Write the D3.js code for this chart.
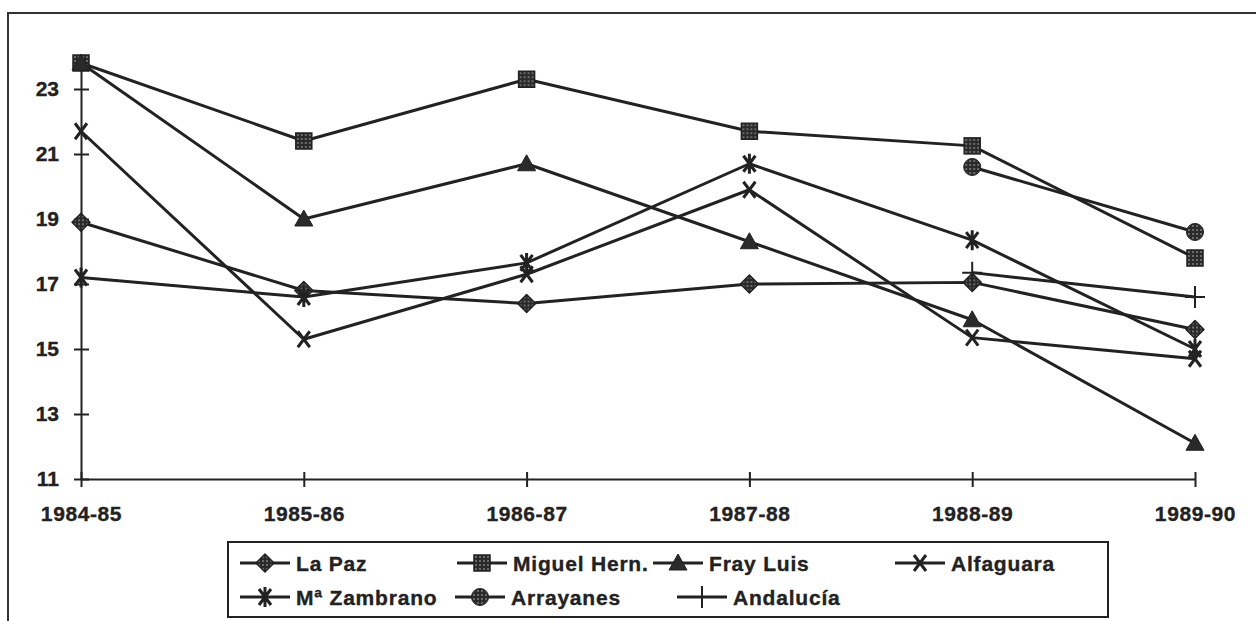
<!DOCTYPE html>
<html>
<head>
<meta charset="utf-8">
<script src="https://cdn.jsdelivr.net/npm/d3@7"></script>
<style>
  body { margin: 0; background: #fff; }
  text { font-family: "Liberation Sans", Arial, sans-serif; font-weight: bold; fill: #222; stroke: #222; stroke-width: 0.35px; }
</style>
</head>
<body>
<svg id="chart" width="1256" height="621"></svg>
<script>
// data
var years = ["1984-85", "1985-86", "1986-87", "1987-88", "1988-89", "1989-90"];
var laPaz      = [18.9, 16.8, 16.4, 17.0, 17.05, 15.6];
var miguelHern = [23.8, 21.4, 23.3, 21.7, 21.25, 17.8];
var frayLuis   = [23.8, 19.0, 20.7, 18.3, 15.9, 12.1];
var alfaguara  = [21.7, 15.3, 17.3, 19.9, 15.35, 14.7];
var zambrano   = [17.2, 16.6, 17.65, 20.7, 18.35, 15.0];
var arrayanes  = [null, null, null, null, 20.6, 18.6];
var andalucia  = [null, null, null, null, 17.35, 16.6];
var yTicks = [11, 13, 15, 17, 19, 21, 23];

var series = [
  {name: "La Paz", values: laPaz, marker: "diamond"},
  {name: "Miguel Hern.", values: miguelHern, marker: "square"},
  {name: "Fray Luis", values: frayLuis, marker: "triangle"},
  {name: "Alfaguara", values: alfaguara, marker: "x"},
  {name: "Mª Zambrano", values: zambrano, marker: "asterisk"},
  {name: "Arrayanes", values: arrayanes, marker: "circle"},
  {name: "Andalucía", values: andalucia, marker: "plus"}
];

// legend slots (line start x, row)
var legendSlots = [[240, 0], [457, 0], [653, 0], [895, 0], [240, 1], [455, 1], [677, 1]];

var ink = "#222";
var svg = d3.select("#chart");

// dotted fill pattern for markers
var defs = svg.append("defs");
var pat = defs.append("pattern").attr("id", "dots")
  .attr("patternUnits", "userSpaceOnUse").attr("width", 4).attr("height", 4);
pat.append("rect").attr("width", 4).attr("height", 4).attr("fill", "#2a2a2a");
pat.append("circle").attr("cx", 2).attr("cy", 2).attr("r", 0.8).attr("fill", "#bbb");

// outer frame (right/bottom run off the page)
svg.append("rect").attr("x", 8).attr("y", 13).attr("width", 1300).attr("height", 700)
  .attr("fill", "none").attr("stroke", "#333").attr("stroke-width", 2);

var x = d3.scalePoint().domain(years).range([81, 1195]);
var y = d3.scaleLinear().domain([11, 24]).range([479, 56.5]);

// y axis
var yAxis = svg.append("g").attr("transform", "translate(81,0)")
  .call(d3.axisLeft(y).tickValues(yTicks).tickSize(0).tickPadding(22));
yAxis.select(".domain").attr("stroke", ink).attr("stroke-width", 2);
yAxis.selectAll(".tick line").remove();
yAxis.selectAll(".tick").append("line").attr("x1", -7).attr("x2", 8)
  .attr("stroke", ink).attr("stroke-width", 2);
yAxis.selectAll("text").attr("font-size", 21).attr("fill", ink)
  .style("font-family", "'Liberation Sans', Arial, sans-serif").style("font-weight", "bold");

// x axis
var xAxis = svg.append("g").attr("transform", "translate(0,479)")
  .call(d3.axisBottom(x).tickSize(0).tickPadding(27));
xAxis.select(".domain").attr("stroke", ink).attr("stroke-width", 2);
xAxis.selectAll(".tick line").remove();
xAxis.selectAll(".tick").append("line").attr("y1", -7).attr("y2", 8)
  .attr("stroke", ink).attr("stroke-width", 2);
xAxis.selectAll("text").attr("font-size", 21).attr("fill", ink).attr("letter-spacing", 0.6)
  .style("font-family", "'Liberation Sans', Arial, sans-serif").style("font-weight", "bold");

function drawMarker(g, type) {
  if (type == "diamond") {
    g.append("path").attr("d", "M0,-9L9,0L0,9L-9,0Z")
      .attr("fill", "url(#dots)").attr("stroke", ink).attr("stroke-width", 1.5)
      .attr("stroke-linejoin", "round");
  } else if (type == "square") {
    g.append("rect").attr("x", -8).attr("y", -8).attr("width", 16).attr("height", 16)
      .attr("fill", "url(#dots)").attr("stroke", ink).attr("stroke-width", 1.5);
  } else if (type == "triangle") {
    g.append("path").attr("d", "M0,-9L9,7L-9,7Z")
      .attr("fill", "#2a2a2a").attr("stroke", ink).attr("stroke-width", 1);
  } else if (type == "circle") {
    g.append("circle").attr("r", 8.5)
      .attr("fill", "url(#dots)").attr("stroke", ink).attr("stroke-width", 1);
  } else if (type == "x") {
    g.append("path").attr("d", "M-6,-8L6,8M6,-8L-6,8")
      .attr("stroke", ink).attr("stroke-width", 3).attr("fill", "none");
  } else if (type == "asterisk") {
    g.append("path").attr("d", "M-6,-8L6,8M6,-8L-6,8M0,-10L0,10")
      .attr("stroke", ink).attr("stroke-width", 3).attr("fill", "none");
  } else if (type == "plus") {
    g.append("path").attr("d", "M-10,0L10,0M0,-11L0,11")
      .attr("stroke", ink).attr("stroke-width", 2).attr("fill", "none");
  }
}

var line = d3.line()
  .defined(function(d) { return d != null; })
  .x(function(d, i) { return x(years[i]); })
  .y(function(d) { return y(d); });

series.forEach(function(s) {
  svg.append("path").datum(s.values).attr("d", line)
    .attr("fill", "none").attr("stroke", ink).attr("stroke-width", 3)
    .attr("stroke-linejoin", "round");
});
series.forEach(function(s) {
  s.values.forEach(function(v, i) {
    if (v == null) return;
    var g = svg.append("g").attr("transform", "translate(" + x(years[i]) + "," + y(v) + ")");
    drawMarker(g, s.marker);
  });
});

// legend
svg.append("rect").attr("x", 228).attr("y", 542).attr("width", 880).attr("height", 75)
  .attr("fill", "#fff").attr("stroke", ink).attr("stroke-width", 2);
series.forEach(function(s, i) {
  var lx = legendSlots[i][0], ly = 563 + legendSlots[i][1] * 34;
  var g = svg.append("g");
  g.append("line").attr("x1", lx).attr("x2", lx + 50).attr("y1", ly).attr("y2", ly)
    .attr("stroke", ink).attr("stroke-width", 3);
  var m = g.append("g").attr("transform", "translate(" + (lx + 25) + "," + ly + ")");
  drawMarker(m, s.marker);
  g.append("text").attr("x", lx + 56).attr("y", ly).attr("dy", "0.36em")
    .attr("font-size", 21).attr("letter-spacing", 0.8).text(s.name);
});
</script>
</body>
</html>
